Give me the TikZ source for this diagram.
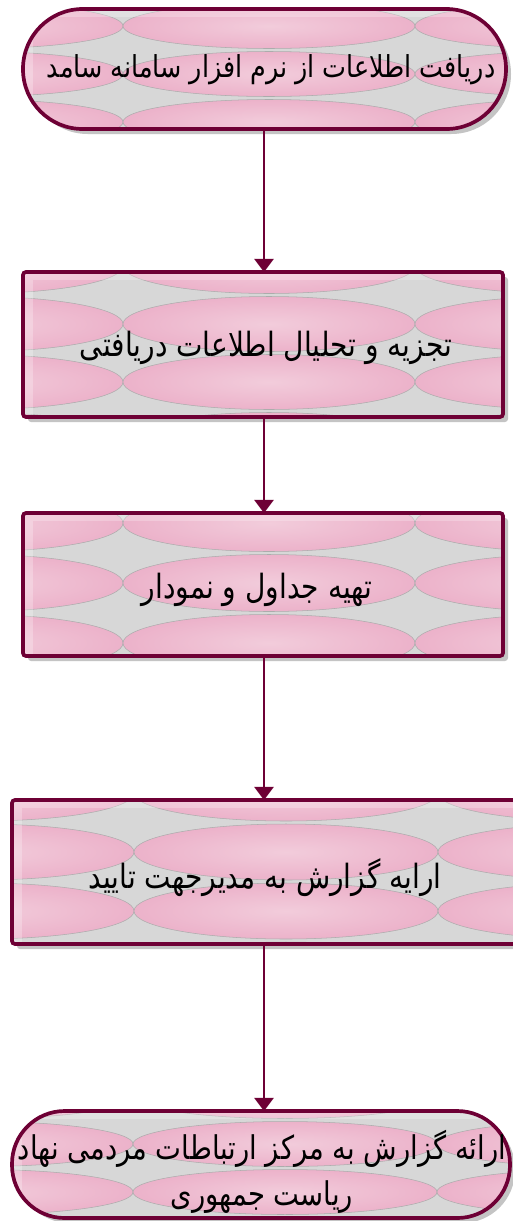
\documentclass[tikz,border=0pt]{standalone}
\usepackage{fontspec}
\newfontfamily\fa[Script=Arabic, FakeStretch=0.84]{DejaVu Sans}
\TeXXeTstate=1
\usetikzlibrary{arrows.meta}
\definecolor{bordc}{HTML}{6E0035}
\definecolor{bgc}{HTML}{D7D7D7}
\definecolor{pinko}{HTML}{ECB2CA}
\definecolor{pinki}{HTML}{F2CCDB}
\definecolor{shadc}{HTML}{C4C4C4}
\definecolor{ellc}{HTML}{ACACAC}
\def\px{0.56906pt}
% #1 x0, #2 y0, #3 x1, #4 y1, #5 corner radius (pt), #6 column centre, #7 half width, #8 first row centre, #9 row height
\newcommand\pinkbox[9]{%
  \fill[shadc, rounded corners=#5] (#1+5,#2+5) rectangle (#3+5,#4+5);
  \begin{scope}
    \clip[rounded corners=#5] (#1,#2) rectangle (#3,#4);
    \fill[bgc] (#1,#2) rectangle (#3,#4);
    \foreach \k in {-1,0,1}{
      \foreach \j in {0,...,4}{
        \shade[inner color=pinki, outer color=pinko] ({#6+2*#7*\k},{#8+#9*\j}) ellipse ({#7} and {#9/2-1.5});
        \draw[ellc, line width=0.3pt] ({#6+2*#7*\k},{#8+#9*\j}) ellipse ({#7} and {#9/2-1.5});
      }
    }
    \fill[white, opacity=0.25] (#1,#2) rectangle (#1+10,#4);
    \fill[white, opacity=0.25] (#1+10,#2) rectangle (#3,#2+8);
  \end{scope}
  \draw[bordc, line width=2.1pt, rounded corners=#5] (#1,#2) rectangle (#3,#4);
}
\begin{document}
\begin{tikzpicture}[x=0.02cm, y=-0.02cm,
  anchorbox/.style={draw=none, inner sep=0pt, outer sep=0pt},
  txt/.style={font=\fa\fontsize{19}{26}\selectfont, align=center, inner sep=0pt},
  conn/.style={draw=bordc, line width=1.2pt, -{Triangle[length=7.5pt, width=11pt]}}]
\useasboundingbox (0,0) rectangle (512,1221);
\fill[white] (0,0) rectangle (512,1221);

\pinkbox{23}{9}{506}{129}{34pt}{269}{146}{26}{48}
\pinkbox{23}{272}{503}{417}{1.7pt}{269}{146}{266}{58}
\pinkbox{23}{513}{503}{656}{1.7pt}{269}{146}{523}{60}
\pinkbox{12}{800}{516}{944}{1.7pt}{286}{152}{793}{59}
\pinkbox{12}{1111}{510}{1218}{30pt}{285}{152}{1096}{48}

\node[anchorbox, minimum width=483*\px, minimum height=120*\px] (n1) at (264.5,69) {};
\node[anchorbox, minimum width=480*\px, minimum height=145*\px] (n2) at (263,344.5) {};
\node[anchorbox, minimum width=480*\px, minimum height=143*\px] (n3) at (263,584.5) {};
\node[anchorbox, minimum width=504*\px, minimum height=144*\px] (n4) at (264,872) {};
\node[anchorbox, minimum width=498*\px, minimum height=107*\px] (n5) at (261,1164.5) {};

\node[txt, font=\fa\fontsize{17.2}{26}\selectfont] (t1) at (271,70) {\beginR دریافت اطلاعات از نرم افزار سامانه سامد\endR};
\node[txt] (t2) at (266,348) {\beginR تجزیه و تحلیال اطلاعات دریافتی\endR};
\node[txt] (t3) at (257,590) {\beginR تهیه جداول و نمودار\endR};
\node[txt] (t4) at (265,878) {\beginR ارایه  گزارش به مدیرجهت تایید\endR};
\node[txt, font=\fa\fontsize{18.6}{26}\selectfont] (t5) at (262,1172) {\beginR ارائه گزارش به مرکز ارتباطات مردمی نهاد\endR\\\beginR ریاست جمهوری\endR};

\draw[conn] (n1.south -| 264,0) -- (n2.north -| 264,0);
\draw[conn] (n2.south -| 264,0) -- (n3.north -| 264,0);
\draw[conn] (n3.south -| 264,0) -- (n4.north -| 264,0);
\draw[conn] (n4.south -| 264,0) -- (n5.north -| 264,0);
\end{tikzpicture}
\end{document}
